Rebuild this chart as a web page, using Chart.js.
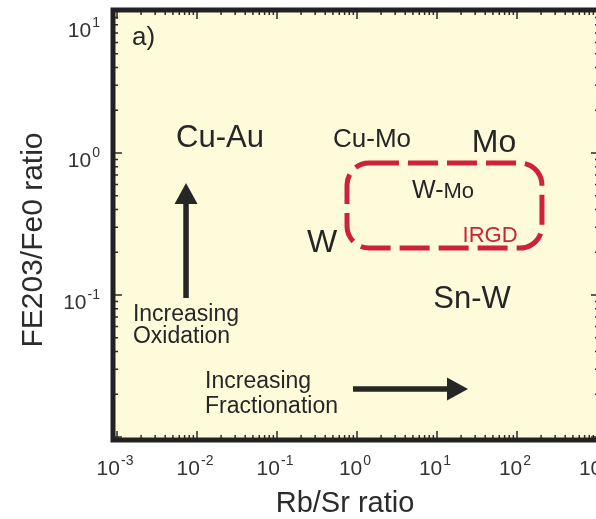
<!DOCTYPE html>
<html>
<head>
<meta charset="utf-8">
<script src="https://cdn.jsdelivr.net/npm/chart.js@4.4.1/dist/chart.umd.min.js"></script>
<style>
  html, body { margin: 0; padding: 0; background: #fff; overflow: hidden; }
  #wrap { width: 596px; height: 519px; overflow: hidden; }
</style>
</head>
<body>
<div id="wrap"><canvas id="myChart" width="650" height="519"></canvas></div>
<script>
// axis ranges (both axes log10)
const xRange = [0.000891, 1090];
const yRange = [0.00953, 10.16];
const xDecades = [-3, -2, -1, 0, 1, 2, 3];
const yDecades = [-2, -1, 0, 1];
// decades that carry a "10^n" label
const xLabelled = [-3, -2, -1, 0, 1, 2, 3];
const yLabelled = [-1, 0, 1];

const xTitle = 'Rb/Sr ratio';
const yTitle = 'FE203/Fe0 ratio';

// annotation texts and where they sit (data coords)
const labelText = ['a)', 'Cu-Au', 'Cu-Mo', 'Mo', 'W', 'W-Mo', 'IRGD', 'Sn-W',
                   'Increasing', 'Oxidation', 'Increasing', 'Fractionation'];
const labelX = [0.00154, 0.0194, 1.54, 51.6, 0.365, 11.9, 46.0, 27.4, 0.00158, 0.00158, 0.0126, 0.0126];
const labelY = [5.76, 1.10, 1.10, 1.016, 0.201, 0.482, 0.236, 0.081, 0.0656, 0.0459, 0.0221, 0.01476];

// arrows (oxidation, fractionation)
const arrowFromX = [0.00729, 0.891];
const arrowFromY = [0.0953, 0.0218];
const arrowToX = [0.00729, 24.4];
const arrowToY = [0.615, 0.0218];

// IRGD field box
const irgdX = [0.75, 205];
const irgdY = [0.214, 0.85];

// ---- styles ----
const FONT = '"Liberation Sans", Arial, Helvetica, sans-serif';
const INK = '#262626';
const RED = '#cf2139';
const TICK_INK = '#333';
const labelStyle = [
  {size: 26, align: 'left'},
  {size: 31}, {size: 26}, {size: 32}, {size: 32},
  {size: 25, smallFrom: 2, smallSize: 22},
  {size: 22, color: RED},
  {size: 31},
  {size: 23, align: 'left'}, {size: 23, align: 'left'},
  {size: 23, align: 'left'}, {size: 23, align: 'left'}
];

const logTicks = (decades, range) => {
  let out = [];
  for (let d = decades[0] - 1; d <= decades[decades.length - 1]; d++) {
    for (let m = 1; m <= 9; m++) {
      const v = m * Math.pow(10, d);
      if (v >= range[0] && v <= range[1]) out.push({value: v, major: m === 1});
    }
  }
  return out;
};

// "10" with a raised exponent, anchored at (x, baseline); align 'center' or 'right'
const drawPow = (ctx, e, x, base, align) => {
  ctx.font = '21px ' + FONT;
  const w1 = ctx.measureText('10').width;
  ctx.font = '14px ' + FONT;
  const w2 = ctx.measureText(String(e)).width + 1;
  const sx = align === 'right' ? x - w1 - w2 : x - (w1 + w2) / 2;
  ctx.textAlign = 'left';
  ctx.font = '21px ' + FONT;
  ctx.fillText('10', sx, base);
  ctx.font = '14px ' + FONT;
  ctx.fillText(String(e), sx + w1 + 1, base - 10);
};

const paper = {
  id: 'paper',
  beforeDraw(chart) {
    const {ctx, chartArea: a} = chart;
    ctx.save();
    ctx.fillStyle = '#fefbdb';
    ctx.fillRect(a.left, a.top, a.right - a.left, a.bottom - a.top);
    ctx.restore();
  },
  afterDraw(chart) {
    const {ctx, chartArea: a} = chart;
    const xs = chart.scales.x, ys = chart.scales.y;
    ctx.save();

    // inward ticks on all sides
    ctx.strokeStyle = '#2b2b2b';
    ctx.lineWidth = 1.5;
    xs.ticks.forEach(t => {
      const p = xs.getPixelForValue(t.value);
      const len = t.major ? 9 : 5;
      ctx.beginPath();
      ctx.moveTo(p, a.bottom); ctx.lineTo(p, a.bottom - len);
      ctx.moveTo(p, a.top); ctx.lineTo(p, a.top + len);
      ctx.stroke();
    });
    ys.ticks.forEach(t => {
      const p = ys.getPixelForValue(t.value);
      const len = t.major ? 9 : 5;
      ctx.beginPath();
      ctx.moveTo(a.left, p); ctx.lineTo(a.left + len, p);
      ctx.moveTo(a.right, p); ctx.lineTo(a.right - len, p);
      ctx.stroke();
    });

    // tick labels
    ctx.fillStyle = TICK_INK;
    ctx.textBaseline = 'alphabetic';
    xLabelled.forEach(e => {
      drawPow(ctx, e, xs.getPixelForValue(Math.pow(10, e)) - 2, a.bottom + 35, 'center');
    });
    yLabelled.forEach(e => {
      const p = ys.getPixelForValue(Math.pow(10, e));
      drawPow(ctx, e, a.left - 13, Math.max(p + 14, a.top + 27), 'right');
    });

    // IRGD dashed box
    const bx0 = xs.getPixelForValue(irgdX[0]), bx1 = xs.getPixelForValue(irgdX[1]);
    const by0 = ys.getPixelForValue(irgdY[1]), by1 = ys.getPixelForValue(irgdY[0]);
    ctx.strokeStyle = RED;
    ctx.lineWidth = 5;
    ctx.setLineDash([30, 9]);
    ctx.lineDashOffset = 0;
    ctx.beginPath();
    ctx.roundRect(bx0, by0, bx1 - bx0, by1 - by0, 22);
    ctx.stroke();
    ctx.setLineDash([]);

    // arrows
    ctx.strokeStyle = INK;
    ctx.fillStyle = INK;
    arrowFromX.forEach((fx, i) => {
      const x0 = xs.getPixelForValue(fx), y0 = ys.getPixelForValue(arrowFromY[i]);
      const x1 = xs.getPixelForValue(arrowToX[i]), y1 = ys.getPixelForValue(arrowToY[i]);
      const ang = Math.atan2(y1 - y0, x1 - x0);
      const head = 21, half = 11.5;
      const hx = x1 - head * Math.cos(ang), hy = y1 - head * Math.sin(ang);
      ctx.lineWidth = 5.5;
      ctx.beginPath(); ctx.moveTo(x0, y0); ctx.lineTo(hx, hy); ctx.stroke();
      ctx.beginPath();
      ctx.moveTo(x1, y1);
      ctx.lineTo(hx + half * Math.sin(ang), hy - half * Math.cos(ang));
      ctx.lineTo(hx - half * Math.sin(ang), hy + half * Math.cos(ang));
      ctx.closePath();
      ctx.fill();
    });

    // annotations
    ctx.textBaseline = 'alphabetic';
    labelText.forEach((txt, i) => {
      const st = labelStyle[i];
      const px = xs.getPixelForValue(labelX[i]), py = ys.getPixelForValue(labelY[i]);
      ctx.fillStyle = st.color || INK;
      if (st.smallFrom) {
        const a1 = txt.slice(0, st.smallFrom), a2 = txt.slice(st.smallFrom);
        ctx.font = st.size + 'px ' + FONT;
        const w1 = ctx.measureText(a1).width;
        ctx.font = st.smallSize + 'px ' + FONT;
        const w2 = ctx.measureText(a2).width;
        const sx = px - (w1 + w2) / 2;
        ctx.textAlign = 'left';
        ctx.font = st.size + 'px ' + FONT;
        ctx.fillText(a1, sx, py);
        ctx.font = st.smallSize + 'px ' + FONT;
        ctx.fillText(a2, sx + w1, py);
      } else {
        ctx.font = st.size + 'px ' + FONT;
        ctx.textAlign = st.align || 'center';
        ctx.fillText(txt, px, py);
      }
    });

    // frame
    ctx.strokeStyle = '#222';
    ctx.lineWidth = 5;
    ctx.strokeRect(a.left, a.top, a.right - a.left, a.bottom - a.top);

    // axis titles
    ctx.fillStyle = '#2b2b2b';
    ctx.font = '29px ' + FONT;
    ctx.textAlign = 'center';
    ctx.fillText(xTitle, 345, 512);
    ctx.translate(42, 240);
    ctx.rotate(-Math.PI / 2);
    ctx.font = '30px ' + FONT;
    ctx.fillText(yTitle, 0, 0);
    ctx.restore();
  }
};

const ctx = document.getElementById('myChart').getContext('2d');
var myChart = new Chart(ctx, {
  type: 'scatter',
  data: { datasets: [] },
  options: {
    responsive: false,
    animation: false,
    events: [],
    layout: { padding: { top: 10, right: 50, bottom: 0, left: 0 } },
    plugins: { legend: { display: false }, tooltip: { enabled: false } },
    scales: {
      x: {
        type: 'logarithmic', position: 'bottom',
        min: xRange[0], max: xRange[1],
        afterBuildTicks: s => { s.ticks = logTicks(xDecades, xRange); },
        afterFit: s => { s.height = 79; },
        grid: { display: false, drawTicks: false, tickLength: 0 },
        border: { display: false },
        ticks: { display: false, autoSkip: false }
      },
      y: {
        type: 'logarithmic', position: 'left',
        min: yRange[0], max: yRange[1],
        afterBuildTicks: s => { s.ticks = logTicks(yDecades, yRange); },
        afterFit: s => { s.width = 113; },
        grid: { display: false, drawTicks: false, tickLength: 0 },
        border: { display: false },
        ticks: { display: false, autoSkip: false }
      }
    }
  },
  plugins: [paper]
});
</script>
</body>
</html>
